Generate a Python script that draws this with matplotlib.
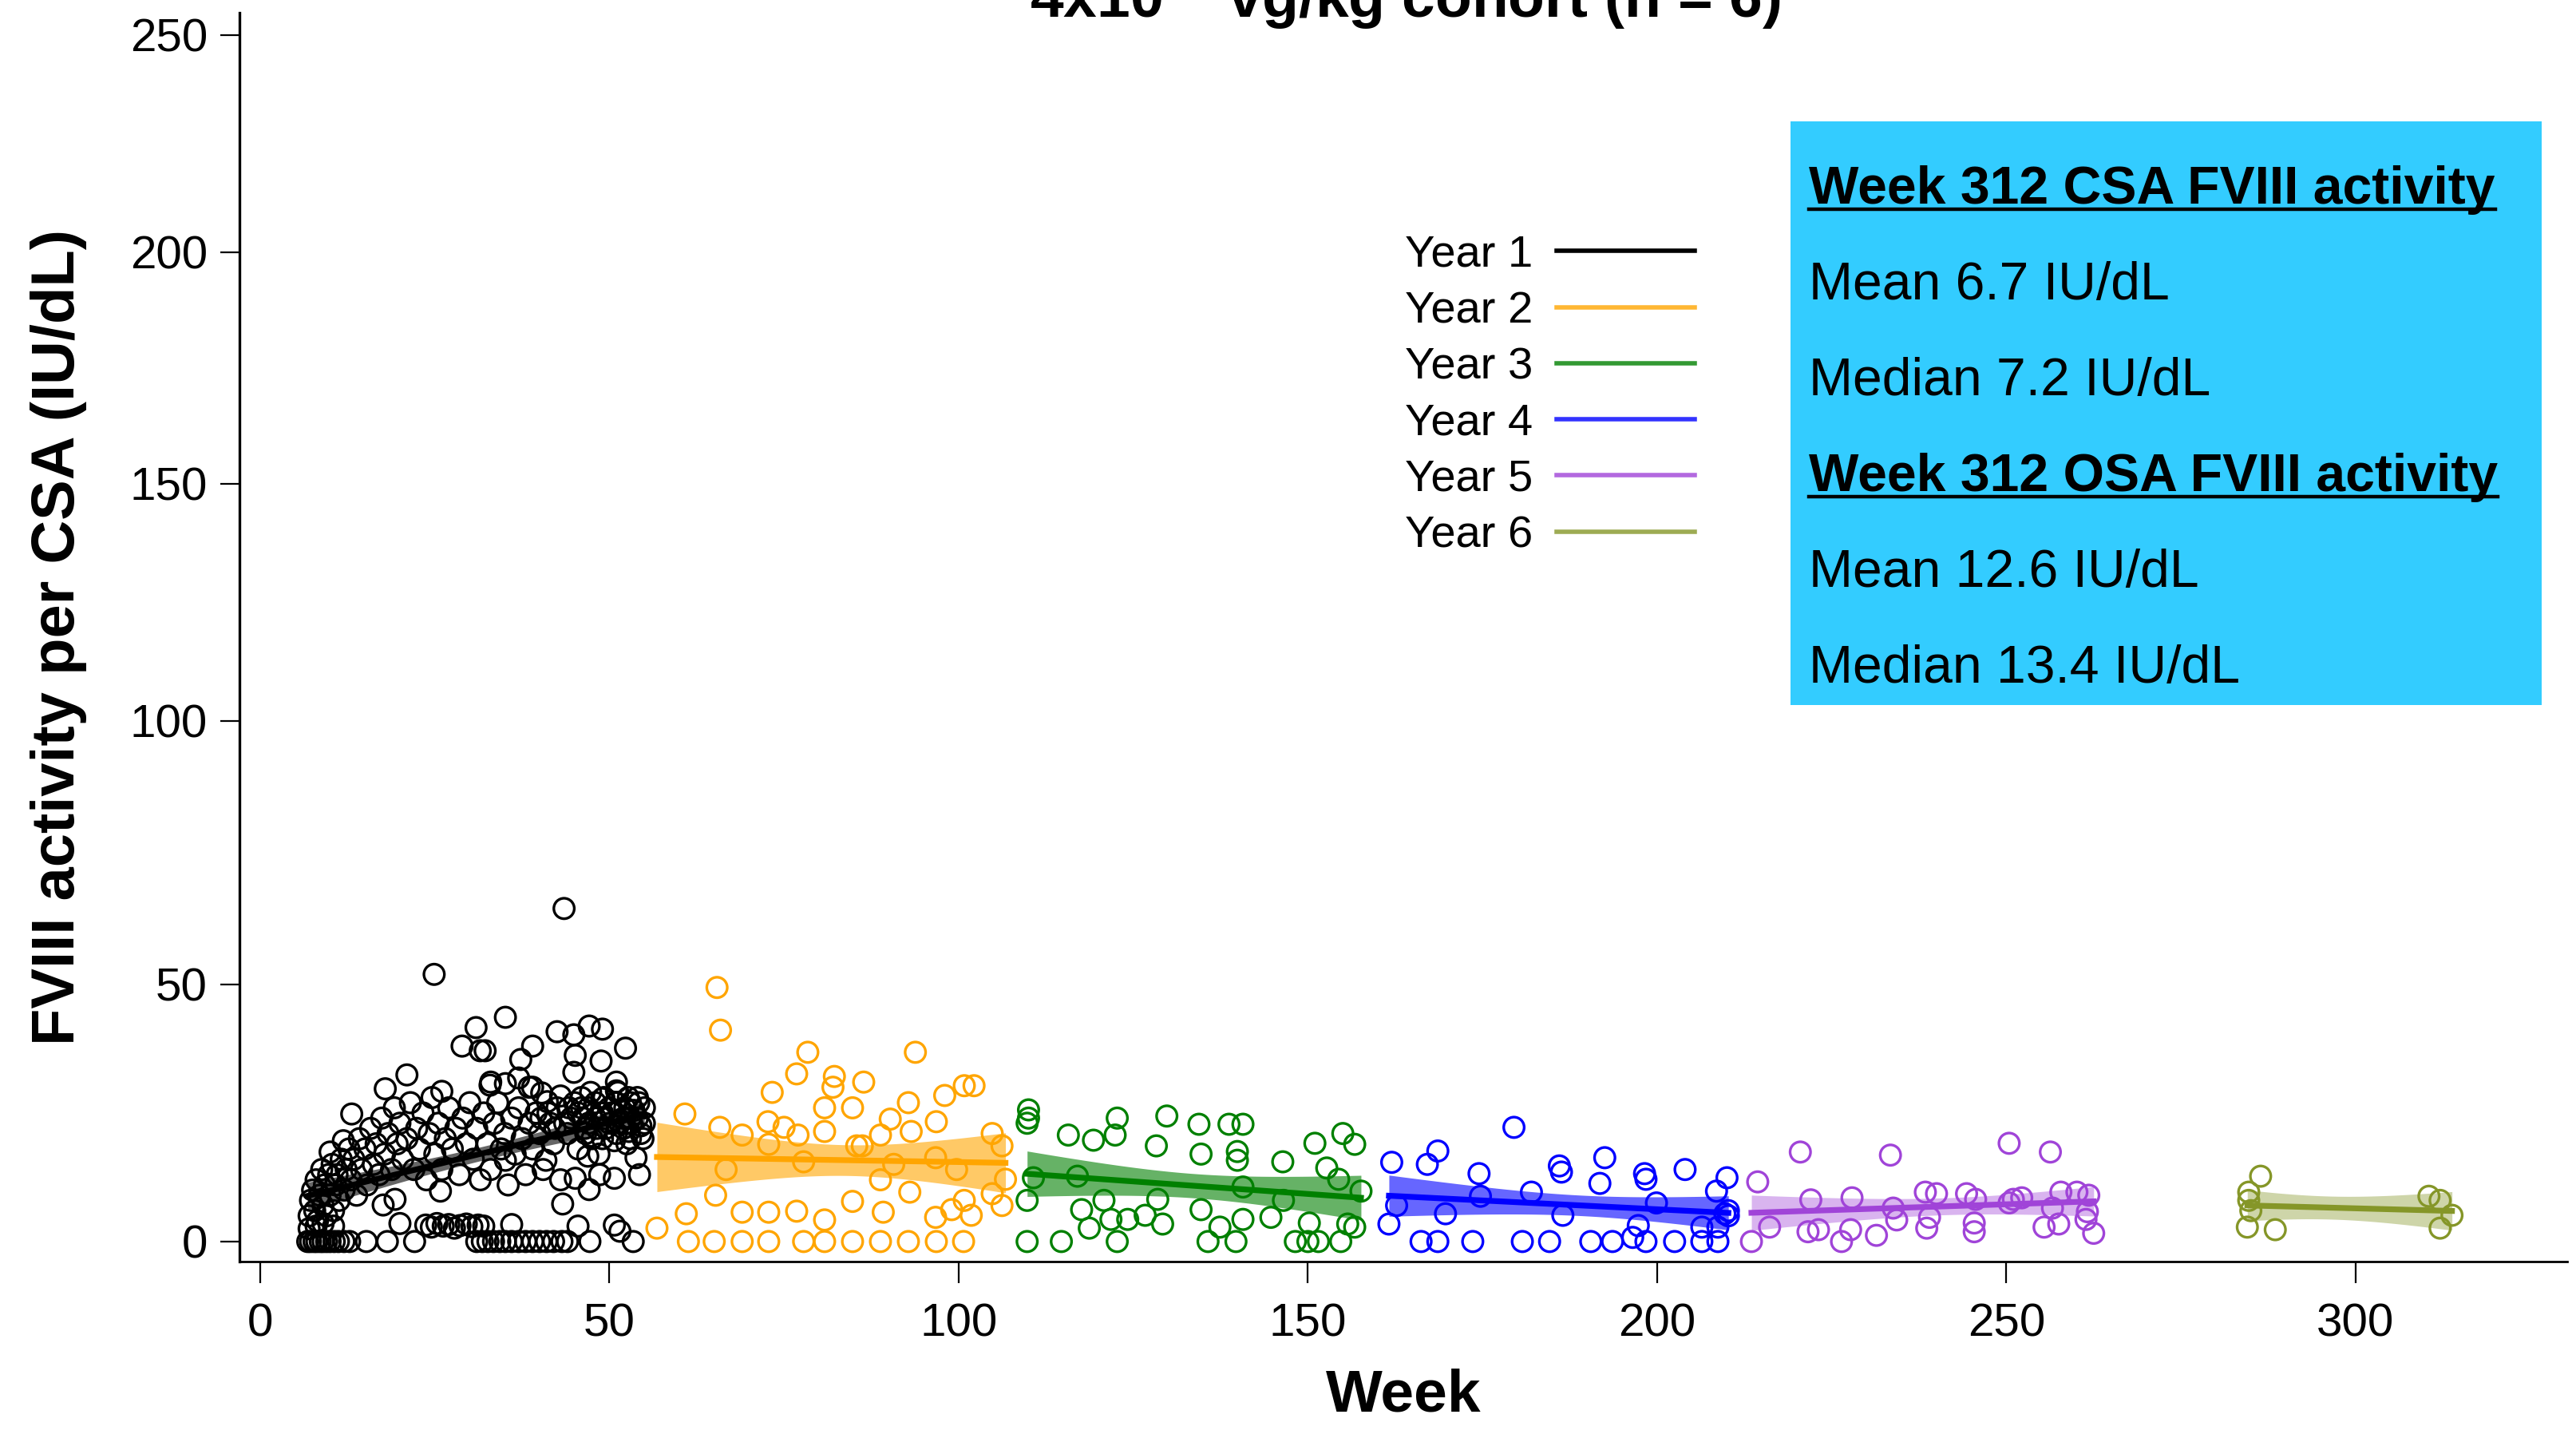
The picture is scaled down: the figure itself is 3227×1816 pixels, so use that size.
import numpy as np
import matplotlib
matplotlib.use("Agg")
import matplotlib.pyplot as plt
from matplotlib.lines import Line2D
from matplotlib.patches import Rectangle

plt.rcParams['font.family'] = ['Liberation Sans', 'DejaVu Sans']
plt.rcParams['mathtext.fontset'] = 'custom'
plt.rcParams['mathtext.rm'] = 'Liberation Sans'
plt.rcParams['mathtext.bf'] = 'Liberation Sans:bold'

# ---- data: week / FVIII activity (IU/dL) per study year ----
yr1_week = [6.8, 7.2, 7.7, 8.1, 8.6, 9.0, 9.5, 10.0, 10.6, 11.2, 12.0, 12.8, 15.2, 18.2, 22.1,
            31.0, 31.8, 32.6, 33.4, 34.3, 35.1, 36.0, 37.0, 38.0, 39.0, 40.0, 41.0, 42.0, 43.2, 44.0, 47.2, 53.4,
            7.0, 8.0, 9.0, 10.5, 20.0, 23.7, 24.5, 25.3, 26.2, 27.0, 27.8, 28.6, 29.5, 30.3, 31.2, 32.0, 36.0,
            45.5, 50.7, 51.5,
            17.6, 19.3, 25.8, 43.3, 45.1, 47.1, 48.6, 50.7, 53.8, 54.3, 40.9, 46.9, 35.1, 50.7, 52.8, 54.5, 53.5, 52.0,
            43.5, 24.9, 35.1, 30.9, 28.9, 31.5, 32.2, 39.0, 37.3, 42.5, 44.9, 47.1, 49.0, 45.1, 48.8, 52.3, 44.9,
            37.0, 21.0, 17.9, 13.1, 26.0, 32.9, 35.1, 38.5, 40.3, 41.1, 43.0, 51.0, 51.0, 49.0, 11.9, 10.0, 33.0, 39.0,
            7.0, 7.2, 7.5, 7.8, 8.0, 8.2, 8.5, 8.8, 9.0, 9.2, 9.5, 9.8, 10.0, 10.3, 10.5, 10.8, 11.0, 11.3, 11.6,
            12.0, 12.3, 12.7,
            13.0, 13.4, 13.8, 14.2, 14.5, 15.0, 15.3, 15.8, 16.2, 16.6, 17.0, 17.4, 17.8, 18.3, 18.8, 19.2, 19.6,
            20.0, 20.4,
            21.0, 21.5, 22.0, 22.4, 22.8, 23.3, 23.8, 24.2, 24.6, 25.0, 25.5, 26.0, 26.5, 27.0, 27.5, 28.0, 28.5,
            29.0, 29.5, 30.0,
            30.5, 31.0, 31.5, 32.0, 32.5, 33.0, 33.5, 34.0, 34.5, 35.0, 35.5, 36.0, 36.5, 37.0, 37.5, 38.0, 38.5,
            39.0, 39.5, 40.0,
            40.5, 41.5, 42.0, 42.5, 43.0, 44.0, 44.5, 45.5, 46.0, 46.5, 47.5, 48.0, 48.5, 49.5, 50.0, 51.5, 52.5,
            53.0, 54.0, 54.8,
            45.5, 46.0, 47.0, 48.0, 49.0, 50.0, 51.0, 52.0, 53.0, 54.0, 55.0, 54.5, 53.0, 51.0, 49.0, 47.0,
            45.0, 46.2, 47.3, 48.2, 49.2, 50.3, 51.2, 52.2, 53.2, 54.2, 55.0, 48.7, 50.8, 52.7, 46.6, 44.2,
            43.6, 42.2, 41.2, 40.2]
yr1_val = [0, 0, 0, 0, 0, 0, 0, 0, 0, 0, 0, 0, 0, 0, 0,
           0, 0, 0, 0, 0, 0, 0, 0, 0, 0, 0, 0, 0, 0, 0, 0, 0,
           2.5, 3.0, 3.5, 3.0, 3.5, 3.2, 2.8, 3.5, 3.0, 3.3, 2.6, 3.1, 3.4, 2.9, 3.2, 3.0, 3.3,
           3.0, 3.2, 2.0,
           7.1, 8.2, 9.8, 7.3, 12.3, 10.1, 13.0, 12.3, 16.3, 13.0, 15.8, 16.6, 15.8, 19.6, 21.4, 22.5, 25.5, 24.0,
           64.4, 51.9, 43.6, 41.6, 38.0, 37.1, 37.1, 38.0, 35.4, 40.8, 40.2, 41.9, 41.3, 36.2, 35.1, 37.6, 32.9,
           31.8, 32.4, 29.7, 24.8, 29.2, 30.4, 30.7, 30.0, 28.9, 27.2, 28.3, 31.0, 29.3, 27.8, 19.6, 17.4, 31.0, 30.0,
           5, 8, 10, 6, 12, 4, 9, 14, 7, 11, 5, 13, 9, 15, 6, 11, 13, 8, 16,
           10, 14, 18,
           12, 16, 9, 20, 14, 18, 11, 22, 15, 19, 13, 24, 17, 21, 14, 26, 19,
           23, 16,
           20, 27, 14, 22, 18, 25, 12, 21, 28, 17, 23, 14, 20, 26, 18, 22, 13,
           24, 19, 27,
           16, 22, 12, 25, 19, 14, 23, 27, 18, 21, 11, 24, 17, 26, 20, 13, 23,
           18, 25, 21,
           14, 23, 19, 26, 12, 21, 24, 18, 26, 22, 20, 24, 17, 22, 26, 23, 19,
           27, 24, 20,
           25, 28, 23, 27, 25, 23, 27, 22, 24, 28, 26, 21, 20, 21, 20, 26,
           27, 24, 29, 22, 28, 25, 29, 26, 23, 27, 23, 25, 27, 28, 21, 26,
           23, 22, 25, 24]

yr2_week = [65.4, 65.9, 78.4, 93.8, 76.8, 73.3, 82.2, 82.0, 86.4, 80.8, 84.8, 92.8, 98.0, 100.8, 102.2,
            60.8, 65.8, 69.0, 72.7, 75.0, 77.0, 72.8, 80.8, 85.4, 86.2, 90.2, 88.8, 93.2, 96.8, 104.8, 106.2,
            66.7, 77.8, 90.7, 96.7, 99.7, 88.8, 106.7, 65.2, 93.0, 104.8, 106.2, 100.8, 99.0, 101.8, 96.7,
            56.8, 61.0, 69.0, 72.8, 76.8, 80.8, 84.8, 89.2,
            61.3, 65.0, 69.0, 72.8, 77.8, 80.8, 84.8, 88.8, 92.8, 96.8, 100.7]
yr2_val = [49.4, 41.1, 36.8, 36.8, 32.6, 29.0, 32.1, 30.0, 31.0, 26.0, 26.0, 27.0, 28.4, 30.3, 30.3,
           24.8, 22.2, 20.7, 23.3, 22.2, 20.7, 18.9, 21.4, 18.6, 18.6, 23.8, 20.7, 21.4, 23.3, 21.0, 18.6,
           14.0, 15.5, 15.0, 16.3, 14.0, 12.0, 12.1, 9.0, 9.6, 9.3, 7.0, 8.0, 6.2, 5.1, 4.7,
           2.6, 5.4, 5.7, 5.7, 5.9, 4.2, 7.8, 5.7,
           0, 0, 0, 0, 0, 0, 0, 0, 0, 0, 0]

yr3_week = [110.0, 110.0, 109.8, 115.7, 119.3, 122.7, 122.4, 129.8, 128.3, 134.4, 138.7, 140.7, 134.7,
            139.9, 139.9, 146.4, 151.0, 155.0, 156.7, 152.7, 154.4, 157.6, 110.7, 117.0, 109.8, 117.6,
            120.8, 118.7, 121.8, 124.2, 126.7, 128.5, 129.2, 134.7, 137.4, 140.7, 140.7, 144.7, 146.5,
            150.2, 155.7, 156.7,
            109.8, 114.7, 122.7, 135.7, 139.7, 148.2, 150.0, 151.5, 154.7]
yr3_val = [25.6, 24.0, 23.0, 20.7, 19.7, 24.0, 20.7, 24.4, 18.6, 22.8, 22.8, 22.8, 17.0,
           17.5, 15.8, 15.5, 19.1, 21.0, 18.9, 14.3, 12.1, 9.8, 12.4, 12.7, 8.0, 6.2,
           8.0, 2.6, 4.3, 4.3, 5.1, 8.2, 3.4, 6.2, 2.8, 4.3, 10.6, 4.7, 8.0,
           3.6, 3.4, 2.8,
           0, 0, 0, 0, 0, 0, 0, 0, 0]

yr4_week = [179.5, 162.0, 167.1, 168.6, 174.5, 174.7, 186.0, 186.3, 192.5, 191.8, 198.2, 198.4, 204.0,
            210.0, 208.5, 209.7, 182.0, 162.7, 161.6, 169.7, 186.5, 199.9, 197.3, 196.5, 210.2, 210.2,
            206.4, 208.7,
            166.2, 168.6, 173.6, 180.7, 184.6, 190.5, 193.6, 198.4, 202.5, 206.4, 208.7]
yr4_val = [22.2, 15.4, 15.0, 17.6, 13.2, 8.8, 14.7, 13.5, 16.3, 11.3, 13.2, 12.1, 14.0,
           12.4, 9.8, 5.4, 9.6, 7.0, 3.4, 5.4, 5.1, 7.5, 3.1, 0.8, 6.0, 5.0,
           2.8, 2.8,
           0, 0, 0, 0, 0, 0, 0, 0, 0, 0, 0]

yr5_week = [220.5, 233.4, 250.4, 256.3, 214.4, 222.0, 227.9, 233.8, 238.4, 240.0, 244.3, 245.6, 251.0,
            252.2, 257.8, 260.1, 261.8, 256.6, 216.1, 213.5, 221.6, 223.1, 226.4, 227.7, 231.4, 234.3,
            238.6, 239.0, 245.4, 245.4, 255.4, 257.5, 261.4, 262.5, 261.6, 250.4]
yr5_val = [17.4, 16.8, 19.1, 17.4, 11.6, 8.1, 8.5, 6.5, 9.6, 9.3, 9.3, 8.2, 8.2,
           8.5, 9.6, 9.6, 9.0, 6.5, 2.8, 0.0, 1.9, 2.3, 0.0, 2.3, 1.2, 4.2,
           2.6, 4.7, 3.6, 1.9, 2.8, 3.4, 4.3, 1.6, 5.8, 7.5]

yr6_week = [286.4, 284.7, 284.7, 284.5, 288.5, 285.0, 310.5, 312.1, 313.8, 312.1]
yr6_val = [12.7, 9.6, 8.0, 2.8, 2.3, 6.0, 8.8, 8.0, 5.1, 2.6]

years = ['Year 1', 'Year 2', 'Year 3', 'Year 4', 'Year 5', 'Year 6']
weeks = [yr1_week, yr2_week, yr3_week, yr4_week, yr5_week, yr6_week]
vals = [yr1_val, yr2_val, yr3_val, yr4_val, yr5_val, yr6_val]
colors = ['black', '#FFA500', '#008000', '#0000FF', '#A044D8', '#859628']
band_alpha = [0.6, 0.6, 0.6, 0.6, 0.4, 0.4]

box_lines = [('Week 312 CSA FVIII activity', True), ('Mean 6.7 IU/dL', False),
             ('Median 7.2 IU/dL', False), ('Week 312 OSA FVIII activity', True),
             ('Mean 12.6 IU/dL', False), ('Median 13.4 IU/dL', False)]

# y axis is slightly compressed towards the top: tick value -> pixel offset
Y_T = [0, 50, 100, 150, 200, 250]
Y_P = [0, 322, 652, 949, 1239, 1511]


def _fwd(v):
    v = np.asarray(v, float)
    out = np.interp(v, Y_T, Y_P)
    out = np.where(v < 0, v * 322 / 50, out)
    out = np.where(v > 250, 1511 + (v - 250) * 272 / 50, out)
    return out


def _inv(p):
    p = np.asarray(p, float)
    out = np.interp(p, Y_P, Y_T)
    out = np.where(p < 0, p * 50 / 322, out)
    out = np.where(p > 1511, 250 + (p - 1511) * 50 / 272, out)
    return out


def fit_band(x, y, n=120):
    # straight-line fit with 95% band for the mean
    x = np.asarray(x, float)
    y = np.asarray(y, float)
    X = np.column_stack([np.ones_like(x), x])
    beta = np.linalg.lstsq(X, y, rcond=None)[0]
    resid = y - X @ beta
    s2 = resid @ resid / (len(x) - 2)
    cov = s2 * np.linalg.inv(X.T @ X)
    xx = np.linspace(x.min(), x.max(), n)
    Xg = np.column_stack([np.ones_like(xx), xx])
    yhat = Xg @ beta
    se = np.sqrt(np.einsum('ij,jk,ik->i', Xg, cov, Xg))
    return xx, yhat, 1.96 * se


W, H, DPI = 3227, 1816, 200
fig = plt.figure(figsize=(W / DPI, H / DPI), dpi=DPI)
ax = fig.add_axes([300 / W, 1 - 1580 / H, (3216 - 300) / W, (1580 - 16) / H])
ax.set_yscale('function', functions=(_fwd, _inv))

for i in range(len(years)):
    ax.scatter(weeks[i], vals[i], s=85, facecolors='none', edgecolors=colors[i],
               linewidths=1.2, zorder=2)
    xx, yhat, ci = fit_band(weeks[i], vals[i])
    ax.fill_between(xx, yhat - ci, yhat + ci, color=colors[i], alpha=band_alpha[i],
                    lw=0, zorder=3)
    ax.plot(xx, yhat, color=colors[i], lw=2.6, zorder=4)

ax.set_xlim(-2.97, 330.3)
ax.set_ylim(-3.9, 255.1)
ax.set_xticks([0, 50, 100, 150, 200, 250, 300])
ax.set_yticks(Y_T)
ax.set_yticklabels([str(t) for t in Y_T])
ax.yaxis.set_minor_locator(matplotlib.ticker.NullLocator())

for s in ['top', 'right']:
    ax.spines[s].set_visible(False)
ax.spines['left'].set_linewidth(1.2)
ax.spines['bottom'].set_linewidth(1.0)
ax.tick_params(axis='y', length=8.6, width=0.8, labelsize=21, pad=5.8)
ax.tick_params(axis='x', length=9.7, width=0.8, labelsize=21, pad=9)

ax.set_xlabel('Week', fontsize=27, fontweight='bold')
ax.xaxis.set_label_coords(0.5, -0.0855)
ax.set_ylabel('FVIII activity per CSA (IU/dL)', fontsize=27.3, fontweight='bold')
ax.yaxis.set_label_coords(-0.0655, 0.5)

fig.text(1760 / W, 1 - 22 / H, r'4x10$^{\mathbf{13}}$ vg/kg cohort (n = 6)',
         ha='center', va='baseline', fontsize=27, fontweight='bold')

# legend: labels first, line samples on the right
handles = [Line2D([], [], color=c, lw=2.0, alpha=(1.0 if c == 'black' else 0.8))
           for c in colors]
ax.legend(handles, years, loc='upper left', bbox_to_anchor=(1760 / W, 1 - 294 / H),
          bbox_transform=fig.transFigure, frameon=False, markerfirst=False,
          handlelength=3.1, handletextpad=0.52, labelspacing=0.325, borderpad=0,
          borderaxespad=0, fontsize=20.2)

# summary box
fig.patches.append(Rectangle((2243 / W, 1 - 883 / H), (3184 - 2243) / W, (883 - 152) / H,
                             transform=fig.transFigure, facecolor='#33CCFF',
                             edgecolor='none', zorder=0))
heads = []
for k, (txt, bold) in enumerate(box_lines):
    t = fig.text(2266 / W, 1 - (255 + 120 * k) / H, txt, ha='left', va='baseline',
                 fontsize=23.8, fontweight=('bold' if bold else 'normal'))
    if bold:
        heads.append((t, 255 + 120 * k))

fig.canvas.draw()
for t, base in heads:
    bb = t.get_window_extent()
    yy = 1 - (base + 7) / H
    fig.add_artist(Line2D([bb.x0 / W, bb.x1 / W], [yy, yy], transform=fig.transFigure,
                          color='black', lw=1.6))

fig.savefig('out.png', dpi=DPI)
